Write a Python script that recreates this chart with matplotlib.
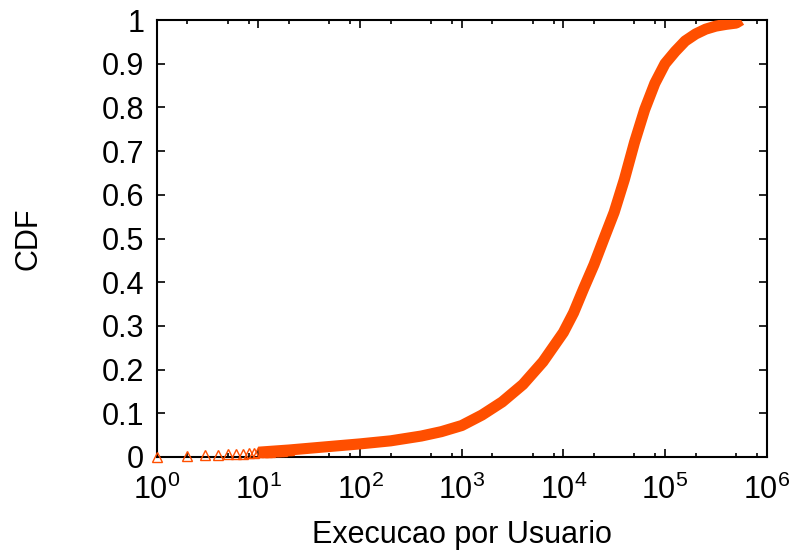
import numpy as np
import matplotlib
matplotlib.use('Agg')
import matplotlib.pyplot as plt
from matplotlib.ticker import LogLocator, NullFormatter

# Defaults
matplotlib.rcParams['font.family'] = 'sans-serif'
matplotlib.rcParams['font.sans-serif'] = ['Liberation Sans']
matplotlib.rcParams['mathtext.fontset'] = 'custom'
matplotlib.rcParams['mathtext.rm'] = 'Liberation Sans'
matplotlib.rcParams['mathtext.it'] = 'Liberation Sans:italic'

# Data
# low counts, drawn as single markers
exec_low = [1, 2, 3, 4, 5, 6, 7, 8, 9, 10, 11, 12, 13, 14, 15, 16, 17, 18, 19, 20]
cdf_low = [0.0, 0.002, 0.004, 0.005, 0.006, 0.007, 0.008, 0.009, 0.010, 0.011,
           0.0115, 0.012, 0.0125, 0.013, 0.0135, 0.014, 0.0145, 0.015, 0.0155, 0.016]
# rest of the curve
exec_high = [10, 20, 50, 100, 200, 400, 630, 1000, 1580, 2500, 4000, 6300,
             10000, 12600, 15800, 20000, 25100, 31600, 39800, 50100, 63100,
             79400, 100000, 126000, 158000, 200000, 251000, 316000, 398000,
             501000, 562000]
cdf_high = [0.011, 0.016, 0.024, 0.030, 0.037, 0.048, 0.058, 0.072,
            0.096, 0.126, 0.166, 0.218, 0.285, 0.33, 0.385, 0.44, 0.50, 0.56,
            0.635, 0.72, 0.795, 0.855, 0.90, 0.928, 0.952, 0.968, 0.979, 0.986,
            0.990, 0.993, 1.0]
yticks = [0, 0.1, 0.2, 0.3, 0.4, 0.5, 0.6, 0.7, 0.8, 0.9, 1]
ytick_labels = ['0', '0.1', '0.2', '0.3', '0.4', '0.5', '0.6', '0.7', '0.8', '0.9', '1']

color = '#ff4f00'

fig = plt.figure(figsize=(7.92, 5.51), dpi=100)
ax = fig.add_axes([0.198, 0.1706, 0.77, 0.7931])

ax.plot(exec_high, cdf_high, color=color, lw=8, solid_capstyle='butt',
        solid_joinstyle='round', zorder=3)
ax.plot(exec_low, cdf_low, linestyle='none', marker='^', markersize=7,
        markerfacecolor='none', markeredgecolor=color, markeredgewidth=1.0,
        zorder=3, clip_on=False)

ax.set_xscale('log')
ax.set_xlim(1, 1e6)
ax.set_ylim(0, 1)

ax.xaxis.set_major_locator(LogLocator(base=10, numticks=10))
ax.xaxis.set_minor_locator(LogLocator(base=10, subs=(2, 5, 8), numticks=20))
ax.xaxis.set_minor_formatter(NullFormatter())
ax.set_yticks(yticks)
ax.set_yticklabels(ytick_labels)

ax.tick_params(which='both', direction='in', top=True, right=True,
               labelsize=22, width=1.2)
ax.tick_params(which='major', length=6)
ax.tick_params(which='minor', length=3)
ax.tick_params(axis='y', pad=9)
ax.tick_params(axis='x', pad=13)

for s in ax.spines.values():
    s.set_linewidth(1.5)

ax.set_xlabel('Execucao por Usuario', fontsize=22, labelpad=10)
ax.set_ylabel('CDF', fontsize=22, labelpad=42)

fig.savefig('out.png', dpi=100)
